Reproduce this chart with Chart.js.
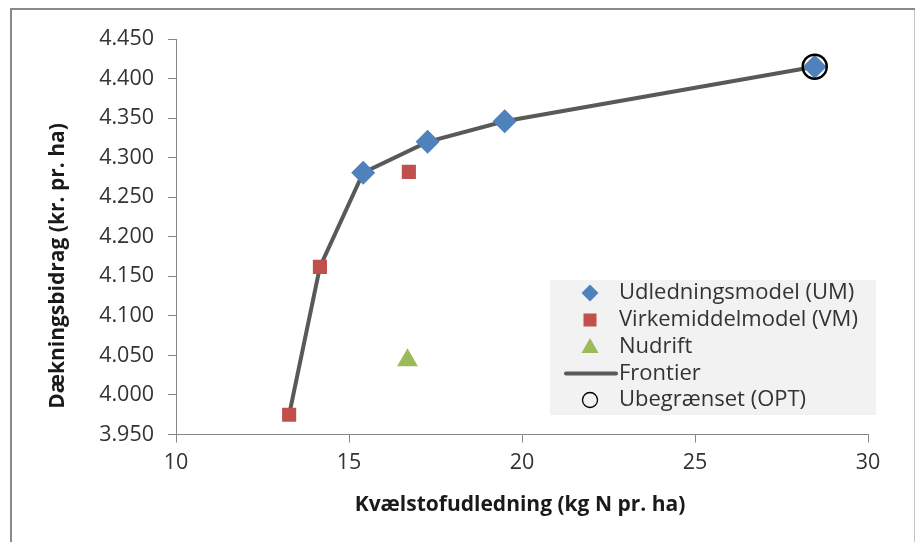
<!DOCTYPE html>
<html>
<head>
<meta charset="utf-8">
<script src="https://cdn.jsdelivr.net/npm/chart.js@4/dist/chart.umd.min.js"></script>
<style>
  html, body { margin: 0; padding: 0; background: #ffffff; }
  #wrap { width: 916px; height: 542px; position: relative; }
</style>
</head>
<body>
<div id="wrap"><canvas id="c" width="916" height="542"></canvas></div>
<script>
// Kvælstofudledning (kg N pr. ha) vs. dækningsbidrag (kr. pr. ha)
const umX = [15.41, 17.27, 19.50, 28.46];
const umY = [4281, 4320, 4346, 4415];

const vmX = [13.27, 14.16, 16.73];
const vmY = [3975, 4162, 4282];

const nudriftX = [16.69];
const nudriftY = [4044];

const frontierX = [13.27, 14.16, 15.41, 17.27, 19.50, 28.46];
const frontierY = [3975, 4162, 4281, 4320, 4346, 4415];

const optX = [28.46];
const optY = [4415];

const seriesNames = ['Udledningsmodel (UM)', 'Virkemiddelmodel (VM)', 'Nudrift', 'Frontier', 'Ubegrænset (OPT)'];
const xTitle = 'Kvælstofudledning (kg N pr. ha)';
const yTitle = 'Dækningsbidrag (kr. pr. ha)';

const FONT = '"Open Sans", "Liberation Sans", sans-serif';
const TEXT = '#333333';
const AXIS = '#868686';
const BLUE = '#4F81BD', RED = '#C0504D', GREEN = '#9BBB59', LINE = '#595959';

const pts = (xs, ys) => xs.map((x, i) => ({ x: x, y: ys[i] }));

// Danish thousands separator: 4450 -> "4.450"
const fmtKr = v => {
  const s = String(Math.round(v));
  return s.length > 3 ? s.slice(0, s.length - 3) + '.' + s.slice(s.length - 3) : s;
};

const decorations = {
  id: 'decorations',
  beforeDraw(chart) {
    const ctx = chart.ctx;
    ctx.save();
    ctx.fillStyle = '#ffffff';
    ctx.fillRect(0, 0, chart.width, chart.height);
    // outer frame
    ctx.fillStyle = '#8a8a8a';
    ctx.fillRect(10, 8, 905, 2);
    ctx.fillRect(10, 8, 2, 534);
    ctx.fillStyle = '#c4c4c4';
    ctx.fillRect(914, 10, 1, 532);
    ctx.restore();
  },
  afterDraw(chart) {
    const ctx = chart.ctx;
    ctx.save();
    // axis titles
    ctx.fillStyle = '#1a1a1a';
    ctx.font = 'bold 21px ' + FONT;
    ctx.textAlign = 'center';
    ctx.textBaseline = 'middle';
    ctx.fillText(xTitle, 520, 505);
    ctx.translate(58, 266);
    ctx.rotate(-Math.PI / 2);
    ctx.fillText(yTitle, 0, 0);
    ctx.restore();

    // legend
    ctx.save();
    const lx = 550, ly = 280, lw = 326, lh = 135;
    ctx.fillStyle = '#F2F2F2';
    ctx.fillRect(lx, ly, lw, lh);
    const mx = 590, tx = 619;
    const rows = [293, 320, 347, 373.5, 400];
    // diamond
    ctx.fillStyle = BLUE;
    ctx.beginPath();
    ctx.moveTo(mx, rows[0] - 8.5); ctx.lineTo(mx + 8.5, rows[0]);
    ctx.lineTo(mx, rows[0] + 8.5); ctx.lineTo(mx - 8.5, rows[0]);
    ctx.closePath(); ctx.fill();
    // square
    ctx.fillStyle = RED;
    ctx.fillRect(mx - 6.5, rows[1] - 6.5, 13, 13);
    // triangle
    ctx.fillStyle = GREEN;
    ctx.beginPath();
    ctx.moveTo(mx, rows[2] - 9); ctx.lineTo(mx + 8.5, rows[2] + 6);
    ctx.lineTo(mx - 8.5, rows[2] + 6); ctx.closePath(); ctx.fill();
    // line
    ctx.strokeStyle = LINE; ctx.lineWidth = 4; ctx.lineCap = 'round';
    ctx.beginPath(); ctx.moveTo(566, rows[3]); ctx.lineTo(616, rows[3]); ctx.stroke();
    // circle
    ctx.strokeStyle = '#000000'; ctx.lineWidth = 1.3;
    ctx.beginPath(); ctx.arc(mx, rows[4], 7.5, 0, Math.PI * 2); ctx.stroke();
    // labels
    ctx.fillStyle = TEXT;
    ctx.font = '22px ' + FONT;
    ctx.textAlign = 'left';
    ctx.textBaseline = 'middle';
    seriesNames.forEach((n, i) => ctx.fillText(n, tx, rows[i]));
    ctx.restore();
  }
};

new Chart(document.getElementById('c'), {
  type: 'scatter',
  data: {
    datasets: [
      {
        label: seriesNames[4], data: pts(optX, optY),
        pointStyle: 'circle', pointRadius: 12, pointBorderWidth: 2.5,
        pointBackgroundColor: 'rgba(0,0,0,0)', pointBorderColor: '#000000', showLine: false
      },
      {
        label: seriesNames[0], data: pts(umX, umY),
        pointStyle: 'rectRot', pointRadius: 12, pointBorderWidth: 0,
        pointBackgroundColor: BLUE, pointBorderColor: BLUE, showLine: false
      },
      {
        label: seriesNames[1], data: pts(vmX, vmY),
        pointStyle: 'rect', pointRadius: 10, pointBorderWidth: 0,
        pointBackgroundColor: RED, pointBorderColor: RED, showLine: false
      },
      {
        label: seriesNames[2], data: pts(nudriftX, nudriftY),
        pointStyle: 'triangle', pointRadius: 12, pointBorderWidth: 0,
        pointBackgroundColor: GREEN, pointBorderColor: GREEN, showLine: false
      },
      {
        label: seriesNames[3], data: pts(frontierX, frontierY),
        showLine: true, borderColor: LINE, borderWidth: 4, pointRadius: 0,
        tension: 0, fill: false
      }
    ]
  },
  options: {
    responsive: false,
    animation: false,
    events: [],
    layout: { padding: { left: 0, top: 39, right: 48, bottom: 0 } },
    plugins: { legend: { display: false }, tooltip: { enabled: false }, title: { display: false } },
    scales: {
      x: {
        type: 'linear', min: 10, max: 30,
        afterFit(scale) { scale.height = 107.5; },
        border: { color: AXIS, width: 1 },
        grid: { display: true, drawOnChartArea: false, drawTicks: true, tickLength: 8, color: AXIS },
        ticks: { stepSize: 5, padding: 7, color: TEXT, font: { family: FONT, size: 21.5 } }
      },
      y: {
        type: 'linear', min: 3950, max: 4450,
        afterFit(scale) { scale.width = 176; },
        border: { color: AXIS, width: 1 },
        grid: { display: true, drawOnChartArea: false, drawTicks: true, tickLength: 8, color: AXIS },
        ticks: { stepSize: 50, padding: 14, color: TEXT, font: { family: FONT, size: 21.5 }, callback: v => fmtKr(v) }
      }
    }
  },
  plugins: [decorations]
});
</script>
</body>
</html>
